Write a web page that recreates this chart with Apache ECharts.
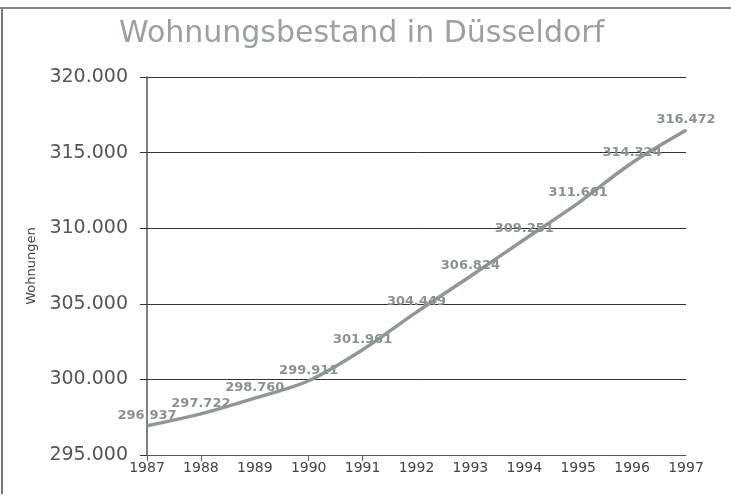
<!DOCTYPE html>
<html><head><meta charset="utf-8">
<script src="https://cdn.jsdelivr.net/npm/echarts@6/dist/echarts.min.js"></script>
<style>html,body{margin:0;padding:0;background:#fff}#c{width:731px;height:496px}</style>
</head><body><div id="c"></div>
<script>
var years = ['1987','1988','1989','1990','1991','1992','1993','1994','1995','1996','1997'];
var wohnungen = [296937, 297722, 298760, 299911, 301961, 304449, 306824, 309251, 311661, 314324, 316472];
var yTicks = [295000, 300000, 305000, 310000, 315000, 320000];
var fmt = function(v){ return String(v).replace(/(\d)(?=(\d{3})+$)/g,'$1.'); };
var tickYears = ['1987','1988','1990','1991'];
var chart = echarts.init(document.getElementById('c'), null, {renderer:'canvas'});
chart.setOption({
  animation:false,
  backgroundColor:'#fff',
  title:{text:'Wohnungsbestand in Düsseldorf', left:114, top:14,
    textStyle:{fontFamily:'DejaVu Sans', fontSize:30, fontWeight:'normal', color:'#9aa1a1'}},
  graphic:[
    {type:'line', shape:{x1:0,y1:8,x2:731,y2:8}, style:{stroke:'#888', lineWidth:2}},
    {type:'line', shape:{x1:2,y1:8,x2:2,y2:494}, style:{stroke:'#777', lineWidth:2}}
  ],
  grid:{left:147, right:45, top:77, bottom:41},
  xAxis:{type:'category', data:years, boundaryGap:false,
    axisLine:{lineStyle:{color:'#555', width:1}},
    axisTick:{show:true, length:6, alignWithLabel:true, lineStyle:{color:'#666'},
      interval:function(i,v){ return tickYears.indexOf(v) >= 0; }},
    axisLabel:{fontFamily:'DejaVu Sans', fontSize:14, color:'#444', margin:6},
    splitLine:{show:false}},
  yAxis:{type:'value', min:295000, max:320000, interval:5000,
    name:'Wohnungen', nameLocation:'middle', nameGap:108, nameRotate:90,
    nameTextStyle:{fontFamily:'DejaVu Sans', fontSize:13, color:'#444'},
    axisLine:{show:true, lineStyle:{color:'#555', width:1.5}},
    axisTick:{show:true, length:7, lineStyle:{color:'#333'}},
    axisLabel:{fontFamily:'DejaVu Sans', fontSize:19, color:'#555', margin:19,
      formatter:function(v){ return yTicks.indexOf(v)>=0 ? fmt(v) : ''; }},
    splitLine:{show:true, lineStyle:{color:'#333', width:1}}},
  series:[{type:'line', data:wohnungen, smooth:0.3, showSymbol:true, symbol:'circle', symbolSize:2,
    lineStyle:{color:'#8f9797', width:3.5},
    itemStyle:{color:'#8f9797'},
    label:{show:true, position:'top', distance:3, fontFamily:'DejaVu Sans', fontSize:13,
      fontWeight:'bold', color:'#8a9191', formatter:function(p){ return fmt(p.value); }},
    labelLayout:{hideOverlap:false}
  }]
});
</script></body></html>
